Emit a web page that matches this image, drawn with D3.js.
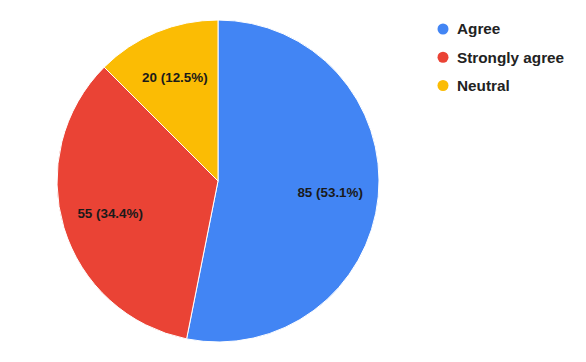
<!DOCTYPE html>
<html>
<head>
<meta charset="utf-8">
<script src="https://cdn.jsdelivr.net/npm/d3@7"></script>
<style>
  body { margin: 0; background: #fff; }
</style>
</head>
<body>
<div id="chart"></div>
<script>
const categories = ["Agree", "Strongly agree", "Neutral"]
const values = [85, 55, 20]
const colours = ["#4285f4", "#ea4335", "#fbbc04"]

const width = 586, height = 362
const cx = 218, cy = 181, outerR = 161

const svg = d3.select("#chart")
    .append("svg")
    .attr("width", width)
    .attr("height", height)
    .style("font-family", "Arial, 'Liberation Sans', sans-serif")

const total = d3.sum(values)
const data = categories.map((c, i) => ({ name: c, value: values[i] }))

const colour = d3.scaleOrdinal().domain(categories).range(colours)

const pie = d3.pie().sort(null).value(d => d.value)
const arc = d3.arc().innerRadius(0).outerRadius(outerR)
const labelArc = d3.arc().innerRadius(outerR * 0.7).outerRadius(outerR * 0.7)

const g = svg.append("g").attr("transform", "translate(" + cx + "," + cy + ")")

// slices
g.selectAll("path")
    .data(pie(data))
    .join("path")
    .attr("d", arc)
    .attr("fill", d => colour(d.data.name))
    .attr("stroke", "#fff")
    .attr("stroke-width", 1)

// value labels inside the slices
g.selectAll("text")
    .data(pie(data))
    .join("text")
    .attr("transform", d => "translate(" + labelArc.centroid(d) + ")")
    .attr("text-anchor", "middle")
    .attr("dy", "0.35em")
    .style("font-size", "13.4px")
    .style("font-weight", "bold")
    .attr("fill", "#1a1a1a")
    .text(d => d.data.value + " (" + (d.data.value / total * 100).toFixed(1) + "%)")

// legend
const legendY = d3.scalePoint().domain(categories).range([29, 85.5])

const legend = svg.append("g")
    .selectAll("g")
    .data(categories)
    .join("g")
    .attr("transform", d => "translate(443," + legendY(d) + ")")

legend.append("circle")
    .attr("r", 5.5)
    .attr("fill", d => colour(d))

legend.append("text")
    .attr("x", 14)
    .attr("dy", "0.35em")
    .style("font-size", "15.3px")
    .style("font-weight", "bold")
    .attr("fill", "#222")
    .text(d => d)
</script>
</body>
</html>
